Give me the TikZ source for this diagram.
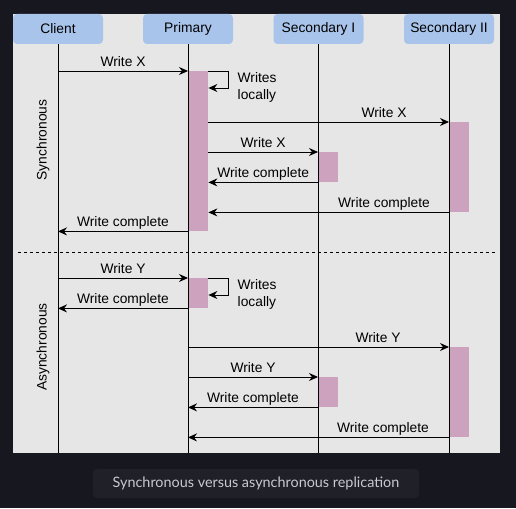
\documentclass[tikz,border=0pt]{standalone}
\usepackage{fontspec}
\setmainfont{Liberation Sans}
\newfontfamily\capfont{Lato}
\usetikzlibrary{arrows.meta}
\definecolor{bgdark}{HTML}{17181F}
\definecolor{capbox}{HTML}{1F2028}
\definecolor{captext}{HTML}{C8CAD2}
\definecolor{panel}{HTML}{E6E6E6}
\definecolor{hdrblue}{HTML}{A9C4EB}
\definecolor{barpink}{HTML}{CDA2BE}
\begin{document}
\begin{tikzpicture}[x=1pt,y=-1pt,
  lbl/.style={font=\fontsize{13.8}{17}\selectfont, text=black, inner sep=0pt},
  hdr/.style={fill=hdrblue, draw=none, rounded corners=4pt, minimum width=90pt, minimum height=30pt, inner sep=0pt, font=\fontsize{13.8}{17}\selectfont},
  actbar/.style={fill=barpink, draw=none, minimum width=20pt, inner sep=0pt, anchor=north west},
  life/.style={draw=black, line width=0.9pt},
  msg/.style={draw=black, line width=0.9pt, -{Stealth[length=9pt,width=8pt,inset=3pt]}},
  msglbl/.style={lbl, anchor=base, yshift=4.6pt}
]
\useasboundingbox (0,0) rectangle (516,508);
\fill[bgdark] (0,0) rectangle (516,508);
\fill[panel] (13,14) rectangle (500,453);

% headers
\node[hdr] (client) at (58,29) {Client};
\node[hdr] (primary) at (188,29) {Primary};
\node[hdr] (secA) at (318.5,29) {Secondary I};
\node[hdr] (secB) at (449,29) {Secondary II};

% activation bars
\node[actbar, minimum height=160pt] (pb1) at (188,71) {};
\node[actbar, minimum height=90pt] (bb1) at (449,122) {};
\node[actbar, minimum height=30pt] (ab1) at (318,152) {};
\node[actbar, minimum height=30pt] (pb2) at (188,278) {};
\node[actbar, minimum height=90pt] (bb2) at (449,347) {};
\node[actbar, minimum height=30pt] (ab2) at (318,377) {};

% lifelines
\coordinate (clientEnd) at (58,453);
\coordinate (primaryEnd) at (188,453);
\coordinate (secAEnd) at (318,453);
\coordinate (secBEnd) at (449,453);
\draw[life] (client.south -| clientEnd) -- (clientEnd);
\draw[life] (primary.south -| primaryEnd) -- (primaryEnd);
\draw[life] (secA.south -| secAEnd) -- (secAEnd);
\draw[life] (secB.south -| secBEnd) -- (secBEnd);

% section labels
\node[lbl, rotate=90] (synclbl) at (43,140) {Synchronous};
\node[lbl, rotate=90] (asynclbl) at (43,347) {Asynchronous};

% separator
\coordinate (sepL) at (18,252);
\coordinate (sepR) at (496,252);
\draw[black, line width=0.8pt, dash pattern=on 3pt off 3pt] (sepL) -- (sepR);

% ---- synchronous ----
\draw[msg] (clientEnd |- pb1.north) -- node[msglbl] {Write X} (pb1.north west);
\draw[msg] (pb1.north east) -- ++(20,0) -- ++(0,17) -- ++(-20,0);
\node[lbl, align=left, anchor=west] (wl1) at (237.5,87) {Writes\\locally};
\draw[msg] (pb1.east |- bb1.north) -- node[msglbl, pos=0.73] {Write X} (bb1.north west);
\draw[msg] (pb1.east |- ab1.north) -- node[msglbl] {Write X} (ab1.north west);
\draw[msg] (ab1.south west) -- node[msglbl] {Write complete} (pb1.east |- ab1.south);
\draw[msg] (bb1.south west) -- node[msglbl, pos=0.27] {Write complete} (pb1.east |- bb1.south);
\draw[msg] (pb1.south west) -- node[msglbl] {Write complete} (clientEnd |- pb1.south);

% ---- asynchronous ----
\draw[msg] (clientEnd |- pb2.north) -- node[msglbl] {Write Y} (pb2.north west);
\draw[msg] (pb2.north east) -- ++(20,0) -- ++(0,17) -- ++(-20,0);
\node[lbl, align=left, anchor=west] (wl2) at (237.5,294) {Writes\\locally};
\draw[msg] (pb2.south west) -- node[msglbl] {Write complete} (clientEnd |- pb2.south);
\draw[msg] (primaryEnd |- bb2.north) -- node[msglbl, pos=0.728] {Write Y} (bb2.north west);
\draw[msg] (primaryEnd |- ab2.north) -- node[msglbl] {Write Y} (ab2.north west);
\draw[msg] (ab2.south west) -- node[msglbl] {Write complete} (primaryEnd |- ab2.south);
\draw[msg] (bb2.south west) -- node[msglbl, pos=0.253] {Write complete} (primaryEnd |- bb2.south);

% caption
\node[fill=capbox, rounded corners=4pt, minimum width=326pt, minimum height=29pt, inner sep=0pt,
      text=captext, font=\capfont\fontsize{14.4}{17}\selectfont] (caption) at (256,483.5)
      {Synchronous versus asynchronous replication};
\end{tikzpicture}
\end{document}
